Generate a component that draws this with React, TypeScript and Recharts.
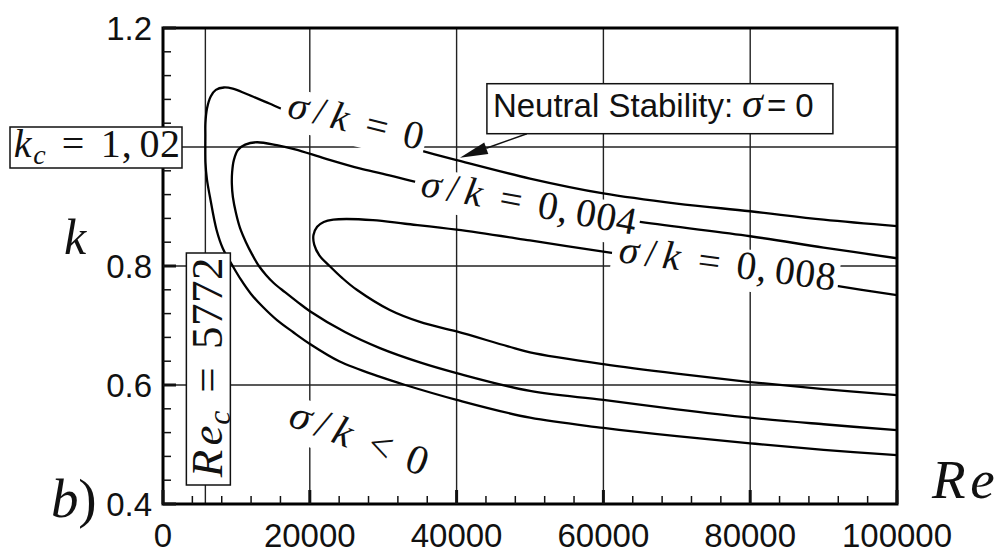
import React from 'react';
import {
  LineChart,
  Line,
  XAxis,
  YAxis,
  ReferenceLine,
  ReferenceArea,
  ReferenceDot,
} from 'recharts';

// Neutral-stability contours in the (Re, k) plane, each listed from the
// upper branch at Re = 100000, round the nose, back along the lower branch.
const contourZero: [number, number][] = [
  [100000, 0.867], [90000, 0.878], [80000, 0.892], [70000, 0.905], [60000, 0.922],
  [50000, 0.947], [40000, 0.978], [34800, 0.995], [28000, 1.018], [22000, 1.04],
  [16600, 1.062], [14500, 1.073], [11400, 1.089], [9500, 1.098], [8300, 1.1],
  [7200, 1.096], [6500, 1.085], [6000, 1.065], [5780, 1.04], [5772, 1.02],
  [5790, 0.973], [5990, 0.945], [6400, 0.916], [7290, 0.861], [8170, 0.829],
  [9400, 0.802], [10620, 0.777], [11990, 0.753], [13620, 0.731], [15530, 0.709],
  [17710, 0.689], [20020, 0.669], [24000, 0.64], [29500, 0.614], [33000, 0.6],
  [40000, 0.575], [50000, 0.545], [60000, 0.528], [70000, 0.514], [80000, 0.502],
  [90000, 0.491], [100000, 0.482],
];

const contour004: [number, number][] = [
  [100000, 0.813], [90000, 0.831], [80000, 0.85], [65000, 0.874], [50000, 0.903],
  [40000, 0.926], [34600, 0.941], [30000, 0.955], [26800, 0.964], [22000, 0.981],
  [18000, 0.996], [15500, 1.003], [12800, 1.008], [11200, 1.004], [10200, 0.995],
  [9650, 0.978], [9420, 0.958], [9380, 0.938], [9520, 0.916], [9940, 0.889],
  [10490, 0.864], [11300, 0.84], [12120, 0.82], [13070, 0.8], [14030, 0.785],
  [15120, 0.771], [16620, 0.756], [18390, 0.739], [20020, 0.724], [24790, 0.689],
  [29550, 0.662], [35000, 0.638], [40000, 0.62], [50000, 0.59], [60000, 0.575],
  [70000, 0.559], [80000, 0.545], [90000, 0.534], [100000, 0.524],
];

const contour008: [number, number][] = [
  [100000, 0.751], [92000, 0.766], [80000, 0.788], [70000, 0.806], [60000, 0.824],
  [50000, 0.843], [40000, 0.861], [33000, 0.871], [28600, 0.877], [25000, 0.879],
  [23200, 0.878], [21900, 0.874], [21000, 0.866], [20500, 0.852], [20600, 0.836],
  [21300, 0.818], [22700, 0.8], [24400, 0.78], [26400, 0.76], [30900, 0.726],
  [35000, 0.706], [40000, 0.69], [47000, 0.665], [50000, 0.655], [60000, 0.635],
  [70000, 0.619], [80000, 0.605], [90000, 0.593], [100000, 0.583],
];

const reTicks = [
  0, 4000, 8000, 12000, 16000, 20000, 24000, 28000, 32000, 36000, 40000, 44000, 48000,
  52000, 56000, 60000, 64000, 68000, 72000, 76000, 80000, 84000, 88000, 92000, 96000, 100000,
];
const kTicks = [
  0.4, 0.44, 0.48, 0.52, 0.56, 0.6, 0.64, 0.68, 0.72, 0.76, 0.8, 0.84, 0.88, 0.92, 0.96,
  1.0, 1.04, 1.08, 1.12, 1.16, 1.2,
];
const reGridLines = [20000, 40000, 60000, 80000];
const kGridLines = [0.6, 0.8, 1.0];
const reCritical = 5772;

const toPoints = (c: [number, number][]) => c.map(([re, k]) => ({ re, k }));

const SANS = "'Liberation Sans', Arial, sans-serif";
const MATH = "'Liberation Serif', 'Times New Roman', serif";
const INK = '#111';

// Centripetal Catmull-Rom curve: passes through every point and copes with
// the contours turning back on themselves at the nose.
const catmullRom = (context: any) => {
  let pts: [number, number][] = [];
  return {
    areaStart() {},
    areaEnd() {},
    lineStart() {
      pts = [];
    },
    point(x: number, y: number) {
      pts.push([+x, +y]);
    },
    lineEnd() {
      const n = pts.length;
      if (!n) return;
      context.moveTo(pts[0][0], pts[0][1]);
      for (let i = 0; i < n - 1; i++) {
        const p0 = pts[Math.max(i - 1, 0)];
        const p1 = pts[i];
        const p2 = pts[i + 1];
        const p3 = pts[Math.min(i + 2, n - 1)];
        const l01 = Math.hypot(p1[0] - p0[0], p1[1] - p0[1]);
        const l12 = Math.hypot(p2[0] - p1[0], p2[1] - p1[1]);
        const l23 = Math.hypot(p3[0] - p2[0], p3[1] - p2[1]);
        const a01 = Math.sqrt(l01), a12 = Math.sqrt(l12), a23 = Math.sqrt(l23);
        let c1x = p1[0], c1y = p1[1], c2x = p2[0], c2y = p2[1];
        if (a01 > 1e-6) {
          const a = 2 * l01 + 3 * a01 * a12 + l12;
          const m = 3 * a01 * (a01 + a12);
          c1x = (p1[0] * a - p0[0] * l12 + p2[0] * l01) / m;
          c1y = (p1[1] * a - p0[1] * l12 + p2[1] * l01) / m;
        }
        if (a23 > 1e-6) {
          const b = 2 * l23 + 3 * a23 * a12 + l12;
          const m = 3 * a23 * (a23 + a12);
          c2x = (p2[0] * b + p1[0] * l23 - p3[0] * l12) / m;
          c2y = (p2[1] * b + p1[1] * l23 - p3[1] * l12) / m;
        }
        context.bezierCurveTo(c1x, c1y, c2x, c2y, p2[0], p2[1]);
      }
    },
  };
};

// Math-style text: each glyph gets a slot sized like TeX's metrics (in em).
type Glyph = { t: string; w: number; it?: boolean; sub?: boolean; gap?: number };

const mathWidth = (glyphs: Glyph[], em: number) =>
  glyphs.reduce((s, g) => s + ((g.gap ?? 0) + g.w * (g.sub ? 0.7 : 1)) * em, 0);

const MathRun = ({ glyphs, em, size }: { glyphs: Glyph[]; em: number; size: number }) => {
  let x = 0;
  const out: React.ReactNode[] = [];
  glyphs.forEach((g, i) => {
    x += (g.gap ?? 0) * em;
    const w = g.w * em * (g.sub ? 0.7 : 1);
    out.push(
      <text
        key={i}
        x={x + w / 2}
        y={g.sub ? 0.16 * em : 0}
        textAnchor="middle"
        fontFamily={MATH}
        fontStyle={g.it ? 'italic' : 'normal'}
        fontSize={size * (g.sub ? 0.7 : 1)}
        fill={INK}
      >
        {g.t}
      </text>
    );
    x += w;
  });
  return <g>{out}</g>;
};

const sigmaOverK: Glyph[] = [
  { t: 'σ', w: 0.571, it: true },
  { t: '/', w: 0.5 },
  { t: 'k', w: 0.521, it: true },
];
const rel = (op: string): Glyph[] => [{ t: op, w: 0.778, gap: 0.278 }];
const zero: Glyph[] = [{ t: '0', w: 0.5, gap: 0.278 }];
const decimal = (d: string): Glyph[] => [
  { t: '0', w: 0.5, gap: 0.278 },
  { t: ',', w: 0.278 },
  { t: '0', w: 0.5, gap: 0.167 },
  { t: '0', w: 0.5 },
  { t: d, w: 0.5 },
];

const contourLabels = [
  { re: 16500, k: 1.052, angle: 14, em: 41, glyphs: [...sigmaOverK, ...rel('='), ...zero] },
  { re: 34700, k: 0.919, angle: 10.5, em: 41, glyphs: [...sigmaOverK, ...rel('='), ...decimal('4')] },
  { re: 61700, k: 0.807, angle: 7.5, em: 41, glyphs: [...sigmaOverK, ...rel('='), ...decimal('8')] },
  { re: 16600, k: 0.534, angle: 20.8, em: 43, glyphs: [...sigmaOverK, ...rel('<'), ...zero] },
];

const RotatedLabel = ({ cx, cy, angle, em, glyphs }: any) => {
  const w = mathWidth(glyphs, em);
  return (
    <g transform={`translate(${cx},${cy}) rotate(${angle})`}>
      <rect x={-5} y={-0.72 * em} width={w + 8} height={1.02 * em} fill="#fff" />
      <MathRun glyphs={glyphs} em={em} size={em * 0.97} />
    </g>
  );
};

const kcGlyphs: Glyph[] = [
  { t: 'k', w: 0.521, it: true },
  { t: 'c', w: 0.433, it: true, sub: true },
  { t: '=', w: 0.778, gap: 0.278 },
  { t: '1', w: 0.5, gap: 0.278 },
  { t: ',', w: 0.278 },
  { t: '0', w: 0.5, gap: 0.167 },
  { t: '2', w: 0.5 },
];

const recGlyphs: Glyph[] = [
  { t: 'R', w: 0.759, it: true },
  { t: 'e', w: 0.466, it: true },
  { t: 'c', w: 0.433, it: true, sub: true },
  { t: '=', w: 0.778, gap: 0.278 },
  { t: '5', w: 0.5, gap: 0.278 },
  { t: '7', w: 0.5 },
  { t: '7', w: 0.5 },
  { t: '2', w: 0.5 },
];

const KcBox = ({ cx, cy }: any) => (
  <g transform={`translate(${cx},${cy})`}>
    <rect x={-153} y={-20} width={172} height={41} fill="#fff" stroke={INK} strokeWidth={1.5} />
    <g transform="translate(-151,10)">
      <MathRun glyphs={kcGlyphs} em={41} size={40} />
    </g>
  </g>
);

const RecBox = ({ cx, cy }: any) => (
  <g transform={`translate(${cx},${cy})`}>
    <rect x={-19} y={-251} width={44} height={232} fill="#fff" stroke={INK} strokeWidth={1.5} />
    <g transform="translate(17,-23) rotate(-90)">
      <MathRun glyphs={recGlyphs} em={46} size={45} />
    </g>
  </g>
);

const NeutralCallout = ({ cx, cy }: any) => {
  const tail = { x: 67, y: -24 };
  const len = Math.hypot(tail.x, tail.y);
  const ux = tail.x / len, uy = tail.y / len;
  const head = 28, half = 6;
  const bx = ux * head, by = uy * head;
  return (
    <g transform={`translate(${cx},${cy})`}>
      <line x1={bx} y1={by} x2={tail.x} y2={tail.y} stroke={INK} strokeWidth={1.5} />
      <polygon
        points={`0,0 ${bx - uy * half},${by + ux * half} ${bx + uy * half},${by - ux * half}`}
        fill={INK}
      />
      <rect x={27} y={-74} width={346} height={50} fill="#fff" stroke={INK} strokeWidth={1.5} />
      <text x={33} y={-41} fontFamily={SANS} fontSize={33} fill={INK}>
        Neutral Stability:
      </text>
      <text x={282} y={-41} fontFamily={MATH} fontStyle="italic" fontSize={42} fill={INK}>
        σ
      </text>
      <text x={307} y={-41} fontFamily={SANS} fontSize={33} fill={INK}>
        = 0
      </text>
    </g>
  );
};

const AxisSymbol = ({ cx, cy, dx, dy, glyphs, em }: any) => (
  <g transform={`translate(${cx + dx},${cy + dy})`}>
    <MathRun glyphs={glyphs} em={em} size={em} />
  </g>
);

const XTick = ({ x, y, payload }: any) => {
  const v = payload.value as number;
  const major = v % 20000 === 0;
  return (
    <g>
      <line x1={x} x2={x} y1={y} y2={y - (major ? 14 : 8)} stroke={INK} strokeWidth={major ? 3 : 1.5} />
      {major && (
        <text x={x} y={y + 43} textAnchor="middle" fontFamily={SANS} fontSize={33} fill={INK}>
          {v}
        </text>
      )}
    </g>
  );
};

const YTick = ({ x, y, payload }: any) => {
  const v = payload.value as number;
  const major = Math.abs(v * 5 - Math.round(v * 5)) < 1e-6;
  return (
    <g>
      <line x1={x} x2={x + (major ? 13 : 8)} y1={y} y2={y} stroke={INK} strokeWidth={major ? 3 : 1.5} />
      {major && (
        <text x={x - 11} y={y + 12} textAnchor="end" fontFamily={SANS} fontSize={33} fill={INK}>
          {v.toFixed(1)}
        </text>
      )}
    </g>
  );
};

const contours = [contourZero, contour004, contour008];

export default function App() {
  return (
    <div style={{ position: 'absolute', left: 0, top: 0, background: '#fff' }}>
      <LineChart width={997} height={553} margin={{ top: 28, right: 100, bottom: 19, left: 103 }}>
        <XAxis
          dataKey="re"
          type="number"
          domain={[0, 100000]}
          ticks={reTicks}
          interval={0}
          allowDataOverflow
          axisLine={false}
          tickLine={false}
          tickSize={0}
          tickMargin={0}
          height={30}
          tick={<XTick />}
        />
        <YAxis
          dataKey="k"
          type="number"
          domain={[0.4, 1.2]}
          ticks={kTicks}
          interval={0}
          allowDataOverflow
          axisLine={false}
          tickLine={false}
          tickSize={0}
          tickMargin={0}
          width={60}
          tick={<YTick />}
        />
        {reGridLines.map((re) => (
          <ReferenceLine key={`vx${re}`} x={re} stroke="#222" strokeWidth={1.4} zIndex={50} />
        ))}
        <ReferenceLine x={reCritical} stroke="#222" strokeWidth={1.4} zIndex={50} />
        {kGridLines.map((k) => (
          <ReferenceLine key={`hy${k}`} y={k} stroke="#222" strokeWidth={1.4} zIndex={50} />
        ))}
        {contours.map((c, i) => (
          <Line
            key={i}
            data={toPoints(c)}
            dataKey="k"
            type={catmullRom as any}
            stroke="#000"
            strokeWidth={2.3}
            dot={false}
            activeDot={false}
            isAnimationActive={false}
            zIndex={400}
          />
        ))}
        <ReferenceArea
          x1={0}
          x2={100000}
          y1={0.4}
          y2={1.2}
          fill="none"
          fillOpacity={0}
          stroke="#000"
          strokeWidth={3}
          ifOverflow="visible"
          zIndex={700}
        />
        {contourLabels.map((l, i) => (
          <ReferenceDot
            key={`lab${i}`}
            x={l.re}
            y={l.k}
            r={1}
            ifOverflow="visible"
            zIndex={2500}
            shape={(p: any) => <RotatedLabel cx={p.cx} cy={p.cy} angle={l.angle} em={l.em} glyphs={l.glyphs} />}
          />
        ))}
        <ReferenceDot
          x={40450}
          y={0.982}
          r={1}
          ifOverflow="visible"
          zIndex={2500}
          shape={(p: any) => <NeutralCallout cx={p.cx} cy={p.cy} />}
        />
        <ReferenceDot
          x={0}
          y={1.0}
          r={1}
          ifOverflow="visible"
          zIndex={2600}
          shape={(p: any) => <KcBox cx={p.cx} cy={p.cy} />}
        />
        <ReferenceDot
          x={reCritical}
          y={0.4}
          r={1}
          ifOverflow="visible"
          zIndex={2600}
          shape={(p: any) => <RecBox cx={p.cx} cy={p.cy} />}
        />
        <ReferenceDot
          x={0}
          y={0.8}
          r={1}
          ifOverflow="visible"
          zIndex={2600}
          shape={(p: any) => (
            <AxisSymbol cx={p.cx} cy={p.cy} dx={-101} dy={-12} em={50} glyphs={[{ t: 'k', w: 0.521, it: true }]} />
          )}
        />
        <ReferenceDot
          x={0}
          y={0.4}
          r={1}
          ifOverflow="visible"
          zIndex={2600}
          shape={(p: any) => (
            <AxisSymbol
              cx={p.cx}
              cy={p.cy}
              dx={-110}
              dy={13}
              em={55}
              glyphs={[
                { t: 'b', w: 0.429, it: true },
                { t: ')', w: 0.389 },
              ]}
            />
          )}
        />
        <ReferenceDot
          x={100000}
          y={0.4}
          r={1}
          ifOverflow="visible"
          zIndex={2600}
          shape={(p: any) => (
            <AxisSymbol
              cx={p.cx}
              cy={p.cy}
              dx={31}
              dy={-6}
              em={55}
              glyphs={[
                { t: 'R', w: 0.759, it: true },
                { t: 'e', w: 0.466, it: true },
              ]}
            />
          )}
        />
      </LineChart>
    </div>
  );
}
